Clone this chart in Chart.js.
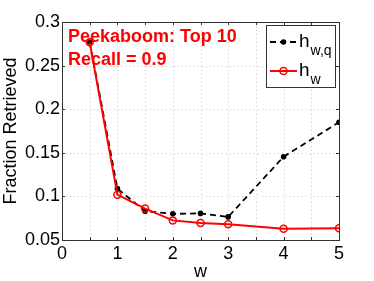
<!DOCTYPE html>
<html><head><meta charset="utf-8">
<script src="https://cdn.jsdelivr.net/npm/chart.js@4.4.1/dist/chart.umd.min.js"></script>
<style>html,body{margin:0;padding:0;background:#fff;}#wrap{width:374px;height:281px;}</style>
</head><body><div id="wrap"><canvas id="c" width="374" height="281"></canvas></div>
<script>
const wValues = [0.5, 1, 1.5, 2, 2.5, 3, 4, 5];
const hwq = [0.277, 0.109, 0.083, 0.080, 0.0805, 0.0765, 0.1455, 0.185];
const hw = [0.2767, 0.102, 0.086, 0.0725, 0.0695, 0.068, 0.063, 0.0635];
const xTickValues = [0, 1, 2, 3, 4, 5];
const yTickValues = [0.05, 0.1, 0.15, 0.2, 0.25, 0.3];
const annotationLines = ['Peekaboom: Top 10', 'Recall = 0.9'];
const legendItems = [
  {main: 'h', sub: 'w,q'},
  {main: 'h', sub: 'w'}
];

const FONT = '"Liberation Sans", Arial, Helvetica, sans-serif';

const decor = {
  id: 'decor',
  beforeDatasetsDraw(chart) {
    const {ctx, chartArea: a, scales: {x, y}} = chart;
    ctx.save();
    ctx.strokeStyle = '#c8c8c8';
    ctx.lineWidth = 1;
    ctx.setLineDash([1, 3]);
    for (let v = 0.5; v < 5; v += 0.5) {
      const px = Math.round(x.getPixelForValue(v)) + 0.5;
      ctx.beginPath(); ctx.moveTo(px, a.top); ctx.lineTo(px, a.bottom); ctx.stroke();
    }
    for (let v = 0.1; v < 0.3; v += 0.05) {
      const py = Math.round(y.getPixelForValue(v)) + 0.5;
      ctx.beginPath(); ctx.moveTo(a.left, py); ctx.lineTo(a.right, py); ctx.stroke();
    }
    ctx.restore();
  },
  afterDatasetsDraw(chart) {
    const {ctx, chartArea: a, scales: {x, y}} = chart;
    ctx.save();
    ctx.strokeStyle = '#333';
    ctx.lineWidth = 1;
    ctx.setLineDash([]);
    ctx.strokeRect(Math.round(a.left) + 0.5, Math.round(a.top) + 0.5, Math.round(a.right - a.left), Math.round(a.bottom - a.top));
    ctx.beginPath();
    for (let v = 0; v <= 5.001; v += 0.5) {
      const px = Math.round(x.getPixelForValue(v)) + 0.5;
      ctx.moveTo(px, a.bottom); ctx.lineTo(px, a.bottom - 3);
      ctx.moveTo(px, a.top); ctx.lineTo(px, a.top + 3);
    }
    for (let v = 0.05; v <= 0.3001; v += 0.05) {
      const py = Math.round(y.getPixelForValue(v)) + 0.5;
      ctx.moveTo(a.left, py); ctx.lineTo(a.left + 3, py);
      ctx.moveTo(a.right, py); ctx.lineTo(a.right - 3, py);
    }
    ctx.stroke();
    ctx.fillStyle = '#ff0000';
    ctx.font = 'bold 18px ' + FONT;
    ctx.textBaseline = 'alphabetic';
    ctx.textAlign = 'left';
    ctx.fillText(annotationLines[0], 68, 42);
    ctx.fillText(annotationLines[1], 68, 65);
    const lx = 266, ly = 25, lw = 69, lh = 62;
    ctx.fillStyle = '#fff';
    ctx.fillRect(lx, ly, lw, lh);
    ctx.strokeStyle = '#333';
    ctx.strokeRect(lx + 0.5, ly + 0.5, lw, lh);
    const rows = [42, 71];
    const dsets = chart.data.datasets;
    rows.forEach((ry, i) => {
      const d = dsets[i];
      ctx.strokeStyle = d.borderColor;
      ctx.lineWidth = d.borderWidth;
      ctx.setLineDash(d.borderDash || []);
      ctx.beginPath(); ctx.moveTo(270, ry); ctx.lineTo(297, ry); ctx.stroke();
      ctx.setLineDash([]);
      ctx.beginPath(); ctx.arc(283.5, ry, d.pointRadius, 0, Math.PI * 2);
      if (i === 0) { ctx.fillStyle = d.pointBackgroundColor; ctx.fill(); }
      else { ctx.lineWidth = d.pointBorderWidth; ctx.strokeStyle = d.pointBorderColor; ctx.stroke(); }
      ctx.fillStyle = '#000';
      ctx.font = '19px ' + FONT;
      ctx.fillText(legendItems[i].main, 299, ry + 5);
      const mw = ctx.measureText(legendItems[i].main).width;
      ctx.font = '14px ' + FONT;
      ctx.fillText(legendItems[i].sub, 299 + mw + 1, ry + 13);
    });
    ctx.restore();
  }
};

new Chart(document.getElementById('c'), {
  type: 'scatter',
  data: {
    datasets: [
      {
        label: 'h_w,q',
        data: wValues.map((w, i) => ({x: w, y: hwq[i]})),
        showLine: true,
        borderColor: '#000',
        borderWidth: 1.8,
        borderDash: [6, 4],
        pointRadius: 2.8,
        pointBackgroundColor: '#000',
        pointBorderColor: '#000',
        pointBorderWidth: 0,
        order: 2
      },
      {
        label: 'h_w',
        data: wValues.map((w, i) => ({x: w, y: hw[i]})),
        showLine: true,
        borderColor: '#ff0000',
        borderWidth: 2,
        pointRadius: 3.5,
        pointBackgroundColor: 'rgba(0,0,0,0)',
        pointBorderColor: '#ff0000',
        pointBorderWidth: 1.5,
        order: 1
      }
    ]
  },
  options: {
    responsive: false,
    animation: false,
    devicePixelRatio: 1,
    layout: {padding: {top: 22, right: 35, left: 0, bottom: 0}},
    plugins: {legend: {display: false}, tooltip: {enabled: false}},
    scales: {
      x: {
        type: 'linear', min: 0, max: 5,
        afterBuildTicks: s => { s.ticks = xTickValues.map(v => ({value: v})); },
        afterFit: s => { s.height = 41; },
        grid: {display: false, drawTicks: false},
        border: {display: false},
        ticks: {color: '#000', font: {family: FONT, size: 18}, padding: 3, autoSkip: false, maxRotation: 0},
        title: {display: true, text: 'w', color: '#000', font: {family: FONT, size: 18, lineHeight: 1}, padding: {top: 0, bottom: 0}}
      },
      y: {
        type: 'linear', min: 0.05, max: 0.3,
        afterBuildTicks: s => { s.ticks = yTickValues.map(v => ({value: v})); },
        afterFit: s => { s.width = 62; },
        grid: {display: false, drawTicks: false},
        border: {display: false},
        ticks: {color: '#000', font: {family: FONT, size: 18}, padding: 2, autoSkip: false,
          callback: v => String(Math.round(v * 100) / 100)},
        title: {display: true, text: 'Fraction Retrieved', color: '#000', font: {family: FONT, size: 18}, padding: {top: 0, bottom: 0}}
      }
    }
  },
  plugins: [decor]
});
</script></body></html>
